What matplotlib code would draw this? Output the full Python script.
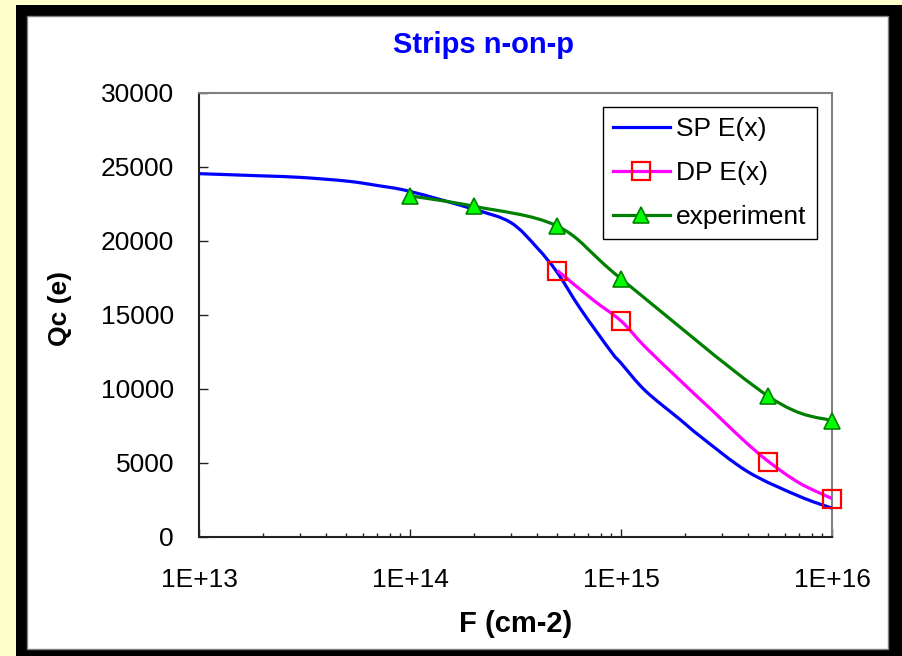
import matplotlib
matplotlib.use('Agg')
import matplotlib.pyplot as plt
import numpy as np
from matplotlib.path import Path
from matplotlib.patches import PathPatch, Rectangle
from matplotlib.lines import Line2D
from matplotlib.ticker import FixedLocator, LogLocator, NullFormatter

plt.rcParams['font.family'] = ['Liberation Sans', 'DejaVu Sans']

# SP E(x) - simulated curve (blue)
sp_fluence = [1e13, 2e13, 3e13, 5e13, 7e13, 1e14, 2e14, 3e14, 4e14, 5e14,
              6.4e14, 9e14, 1e15, 1.3e15, 1.9e15, 2.4e15, 4e15, 7e15, 1e16]
sp_charge = [24550, 24400, 24300, 24050, 23750, 23350, 22150, 21250, 19550, 17850,
             15450, 12500, 11750, 9900, 7950, 6750, 4400, 2750, 1950]

# DP E(x) - simulated curve (magenta, red squares)
dp_fluence = [5e14, 7.4e14, 1e15, 1.3e15, 1.9e15, 2.3e15, 2.8e15, 3.8e15, 5e15, 7e15, 1e16]
dp_charge = [18000, 16000, 14600, 12850, 10600, 9480, 8350, 6550, 5100, 3650, 2600]
dp_marked = [5e14, 1e15, 5e15, 1e16]

# measured points (green)
exp_fluence = [1e14, 2e14, 5e14, 1e15, 5e15, 1e16]
exp_charge = [23050, 22350, 21000, 17450, 9500, 7850]

y_ticks = [0, 5000, 10000, 15000, 20000, 25000, 30000]
x_ticks = [1e13, 1e14, 1e15, 1e16]
x_tick_labels = ['1E+13', '1E+14', '1E+15', '1E+16']

W, H = 902, 656


def fx(px):
    return px / W


def fy(py):
    return 1 - py / H


# Excel-like smoothed line: Catmull-Rom bezier in (log x, y) space
def smooth_path(xs, ys):
    lx = np.log10(xs)
    y = np.asarray(ys, dtype=float)
    n = len(lx)
    verts = [(xs[0], y[0])]
    codes = [Path.MOVETO]
    for i in range(n - 1):
        i0 = max(i - 1, 0)
        i3 = min(i + 2, n - 1)
        c1 = (lx[i] + (lx[i + 1] - lx[i0]) / 6, y[i] + (y[i + 1] - y[i0]) / 6)
        c2 = (lx[i + 1] - (lx[i3] - lx[i]) / 6, y[i + 1] - (y[i3] - y[i]) / 6)
        verts += [(10 ** c1[0], c1[1]), (10 ** c2[0], c2[1]), (xs[i + 1], y[i + 1])]
        codes += [Path.CURVE4] * 3
    return Path(verts, codes)


fig = plt.figure(figsize=(W / 100, H / 100), dpi=100)
fig.patch.set_facecolor('#FFFFCC')

# black frame and white chart area
fig.add_artist(Rectangle((fx(16), -0.1), 1.0, fy(5) + 0.1, transform=fig.transFigure,
                         facecolor='black', edgecolor='none', zorder=-2))
fig.add_artist(Rectangle((fx(27), fy(649)), fx(888) - fx(27), fy(16) - fy(649),
                         transform=fig.transFigure, facecolor='white',
                         edgecolor='#808080', linewidth=1, zorder=-1))

ax = fig.add_axes([fx(199), fy(537), fx(832) - fx(199), fy(93) - fy(537)])
ax.set_facecolor('white')
ax.set_xscale('log')
ax.set_xlim(1e13, 1e16)
ax.set_ylim(0, 30000)

line_w = 2.3
ax.add_patch(PathPatch(smooth_path(sp_fluence, sp_charge), fill=False,
                       edgecolor='#0000FF', linewidth=line_w, zorder=3))
ax.add_patch(PathPatch(smooth_path(dp_fluence, dp_charge), fill=False,
                       edgecolor='#FF00FF', linewidth=line_w, zorder=3))
ax.add_patch(PathPatch(smooth_path(exp_fluence, exp_charge), fill=False,
                       edgecolor='#008000', linewidth=line_w, zorder=3))

dp_idx = [dp_fluence.index(v) for v in dp_marked]
ax.plot([dp_fluence[i] for i in dp_idx], [dp_charge[i] for i in dp_idx],
        linestyle='none', marker='s', markersize=13, markerfacecolor='none',
        markeredgecolor='#FF0000', markeredgewidth=1.6, zorder=4, clip_on=False)
ax.plot(exp_fluence, exp_charge, linestyle='none', marker='^', markersize=12,
        markerfacecolor='#00FF00', markeredgecolor='#008000', markeredgewidth=1.2,
        zorder=5, clip_on=False)

# axes styling
for s in ['left', 'bottom']:
    ax.spines[s].set_color('#222222')
    ax.spines[s].set_linewidth(1.5)
for s in ['top', 'right']:
    ax.spines[s].set_color('#808080')
    ax.spines[s].set_linewidth(1.5)

ax.yaxis.set_major_locator(FixedLocator(y_ticks))
ax.set_yticklabels([str(v) for v in y_ticks])
ax.xaxis.set_major_locator(FixedLocator(x_ticks))
ax.set_xticklabels(x_tick_labels)
ax.xaxis.set_minor_locator(LogLocator(base=10, subs=np.arange(2, 10)))
ax.xaxis.set_minor_formatter(NullFormatter())
ax.yaxis.set_minor_locator(FixedLocator([]))

ax.tick_params(axis='y', which='major', direction='in', length=6.5, width=1,
               labelsize=19, pad=18, right=False, color='#222222')
ax.tick_params(axis='x', which='major', direction='in', length=5.5, width=1,
               labelsize=19, pad=22, top=False, color='#222222')
ax.tick_params(axis='x', which='minor', direction='in', length=3, width=1,
               top=False, color='#222222')

# titles
fig.text(fx(483), fy(53), 'Strips n-on-p', color='#0000FF', fontsize=21,
         fontweight='bold', ha='center', va='baseline')
fig.text(fx(515.5), fy(632), 'F (cm-2)', color='black', fontsize=21,
         fontweight='bold', ha='center', va='baseline')
fig.text(fx(60), fy(309), 'Qc (e)', color='black', fontsize=19,
         fontweight='bold', ha='center', va='center', rotation=90)

# legend
handles = [
    Line2D([], [], color='#0000FF', linewidth=line_w),
    Line2D([], [], color='#FF00FF', linewidth=line_w, marker='s', markersize=13,
           markerfacecolor='none', markeredgecolor='#FF0000', markeredgewidth=1.6),
    Line2D([], [], color='#008000', linewidth=line_w, marker='^', markersize=12,
           markerfacecolor='#00FF00', markeredgecolor='#008000', markeredgewidth=1.2),
]
leg = ax.legend(handles, ['SP E(x)', 'DP E(x)', 'experiment'],
                loc='upper left', bbox_to_anchor=(fx(603), fy(107)),
                bbox_transform=fig.transFigure, borderaxespad=0,
                fontsize=19, frameon=True, fancybox=False, framealpha=1,
                edgecolor='black', handlelength=2.15, handletextpad=0.25,
                labelspacing=0.76, borderpad=0.38, numpoints=1)
leg.get_frame().set_linewidth(1)

fig.savefig('out.png', dpi=100, facecolor=fig.get_facecolor())
